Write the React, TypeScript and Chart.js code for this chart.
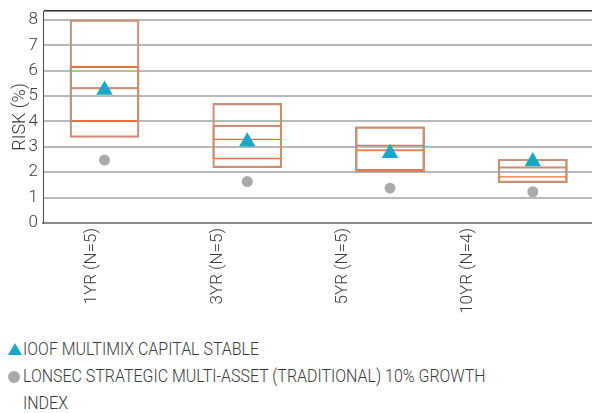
import React, { useEffect, useRef } from 'react';
import { Chart, registerables } from 'chart.js';

Chart.register(...registerables);

// ---- data ----
const categories = ['1YR (N=5)', '3YR (N=5)', '5YR (N=5)', '10YR (N=4)'];
const rangeLow = [3.37, 2.18, 2.0, 1.59];
const rangeHigh = [8.0, 4.71, 3.79, 2.51];
const quartLow = [3.99, 2.51, 2.06, 1.59];
const quartHigh = [6.17, 3.86, 3.79, 2.51];
const medianLine = [5.31, 3.29, 3.06, 1.82];
const meanLine = [5.31, 3.82, 2.87, 2.19];
const fundValues = [5.24, 3.2, 2.75, 2.42];
const indexValues = [2.48, 1.63, 1.37, 1.23];
const yTicks = [0, 1, 2, 3, 4, 5, 6, 7, 8];
const yMax = 8.35;

const legendLabels = [
  'IOOF MULTIMIX CAPITAL STABLE',
  'LONSEC STRATEGIC MULTI-ASSET (TRADITIONAL) 10% GROWTH INDEX',
];

const BROWN = '#c98e74';
const ORANGE = '#e2733e';
const CYAN = '#16a9c7';
const GREY = '#a8aaaa';
const TEXT = '#3a3a3a';
const FONT = 'Roboto, "Noto Sans", sans-serif';

export default function App() {
  const ref = useRef<HTMLCanvasElement | null>(null);

  useEffect(() => {
    if (!ref.current) return;
    const pts = (arr: number[]) => arr.map((v, i) => ({ x: i, y: v }));
    const bars = (lo: number[], hi: number[]) => lo.map((v, i) => ({ x: i, y: [v, hi[i]] }));
    const noPad = (s: any) => {
      s.paddingLeft = 0;
      s.paddingRight = 0;
      s.paddingTop = 0;
      s.paddingBottom = 0;
    };

    const chart = new Chart(ref.current, {
      type: 'bar',
      data: {
        datasets: [
          {
            type: 'scatter',
            label: 'fund',
            data: pts(fundValues),
            pointStyle: 'triangle',
            pointRadius: 9.5,
            backgroundColor: CYAN,
            borderColor: CYAN,
            borderWidth: 0,
            order: 0,
          } as any,
          {
            type: 'scatter',
            label: 'index',
            data: pts(indexValues),
            pointStyle: 'circle',
            pointRadius: 5.5,
            backgroundColor: GREY,
            borderColor: GREY,
            borderWidth: 0,
            order: 1,
          } as any,
          {
            type: 'scatter',
            label: 'mean',
            data: pts(meanLine),
            pointStyle: 'line',
            pointRadius: 34,
            borderColor: BROWN,
            borderWidth: 2,
            order: 2,
          } as any,
          {
            type: 'scatter',
            label: 'median',
            data: pts(medianLine),
            pointStyle: 'line',
            pointRadius: 34,
            borderColor: ORANGE,
            borderWidth: 1.3,
            order: 3,
          } as any,
          {
            type: 'bar',
            label: 'range',
            data: bars(rangeLow, rangeHigh),
            backgroundColor: 'rgba(0,0,0,0)',
            borderColor: BROWN,
            borderWidth: 1.5,
            borderSkipped: false,
            barThickness: 69,
            grouped: false,
            order: 4,
          } as any,
          {
            type: 'bar',
            label: 'quartiles',
            data: bars(quartLow, quartHigh),
            backgroundColor: 'rgba(0,0,0,0)',
            borderColor: ORANGE,
            borderWidth: 1.3,
            borderSkipped: false,
            barThickness: 69,
            grouped: false,
            order: 5,
          } as any,
        ],
      },
      options: {
        animation: false,
        responsive: false,
        devicePixelRatio: 1,
        layout: { autoPadding: false, padding: { top: 11, right: 0, left: 0, bottom: 0 } },
        plugins: { legend: { display: false }, tooltip: { enabled: false } },
        scales: {
          x: {
            type: 'linear',
            min: -0.431,
            max: 3.415,
            offset: false,
            display: false,
            grid: { offset: false },
            afterBuildTicks: (s: any) => {
              s.ticks = categories.map((_, i) => ({ value: i }));
            },
            afterFit: noPad,
          },
          xl: {
            type: 'linear',
            position: 'bottom',
            min: -0.393,
            max: 3.99,
            offset: false,
            afterBuildTicks: (s: any) => {
              s.ticks = categories.map((_, i) => ({ value: i }));
            },
            afterFit: (s: any) => {
              s.height = 107;
              noPad(s);
            },
            grid: { display: false, drawTicks: false, offset: false },
            border: { display: true, color: '#8a8a8a', width: 2 },
            ticks: {
              minRotation: 90,
              maxRotation: 90,
              autoSkip: false,
              padding: 5,
              color: TEXT,
              font: { family: FONT, size: 17, weight: 300 },
              callback: (v: any) => categories[v as number] ?? '',
            },
          },
          y: {
            type: 'linear',
            min: 0,
            max: yMax,
            afterBuildTicks: (s: any) => {
              s.ticks = [...yTicks, yMax].map((v) => ({ value: v }));
            },
            afterFit: (s: any) => {
              s.width = 43;
              noPad(s);
            },
            grid: {
              drawTicks: false,
              color: (c: any) => (c.tick && c.tick.value === yMax ? '#2a2a2a' : '#b8b8b8'),
              lineWidth: (c: any) => (c.tick && c.tick.value === yMax ? 1.5 : 2),
            },
            border: { display: true, color: '#4a4a4a', width: 1 },
            ticks: {
              autoSkip: false,
              padding: 5,
              color: TEXT,
              font: { family: FONT, size: 17, weight: 300 },
              callback: (v: any) => (yTicks.includes(v) ? String(v) : ''),
            },
            title: {
              display: true,
              text: 'RISK (%)',
              color: TEXT,
              font: { family: FONT, size: 18, weight: 300 },
              padding: { top: 10, bottom: 0 },
            },
          },
        },
      } as any,
    });
    return () => chart.destroy();
  }, []);

  return (
    <div style={{ position: 'absolute', left: 0, top: 0, width: 592, height: 413, overflow: 'hidden', background: '#fff' }}>
      <canvas ref={ref} width={592} height={330} style={{ display: 'block' }} />
      <span
        style={{
          position: 'absolute',
          left: 7.5,
          top: 342.5,
          width: 0,
          height: 0,
          borderLeft: '7px solid transparent',
          borderRight: '7px solid transparent',
          borderBottom: `12.5px solid ${CYAN}`,
        }}
      />
      <span
        style={{
          position: 'absolute',
          left: 7.5,
          top: 370.5,
          width: 12,
          height: 12,
          borderRadius: '50%',
          background: GREY,
        }}
      />
      <div
        style={{
          position: 'absolute',
          left: 22.5,
          top: 335,
          width: 530,
          fontFamily: FONT,
          fontWeight: 300,
          fontSize: 18,
          lineHeight: '27px',
          color: TEXT,
          transform: 'scaleX(0.887)',
          transformOrigin: '0 0',
        }}
      >
        <div>{legendLabels[0]}</div>
        <div>{legendLabels[1]}</div>
      </div>
    </div>
  );
}
